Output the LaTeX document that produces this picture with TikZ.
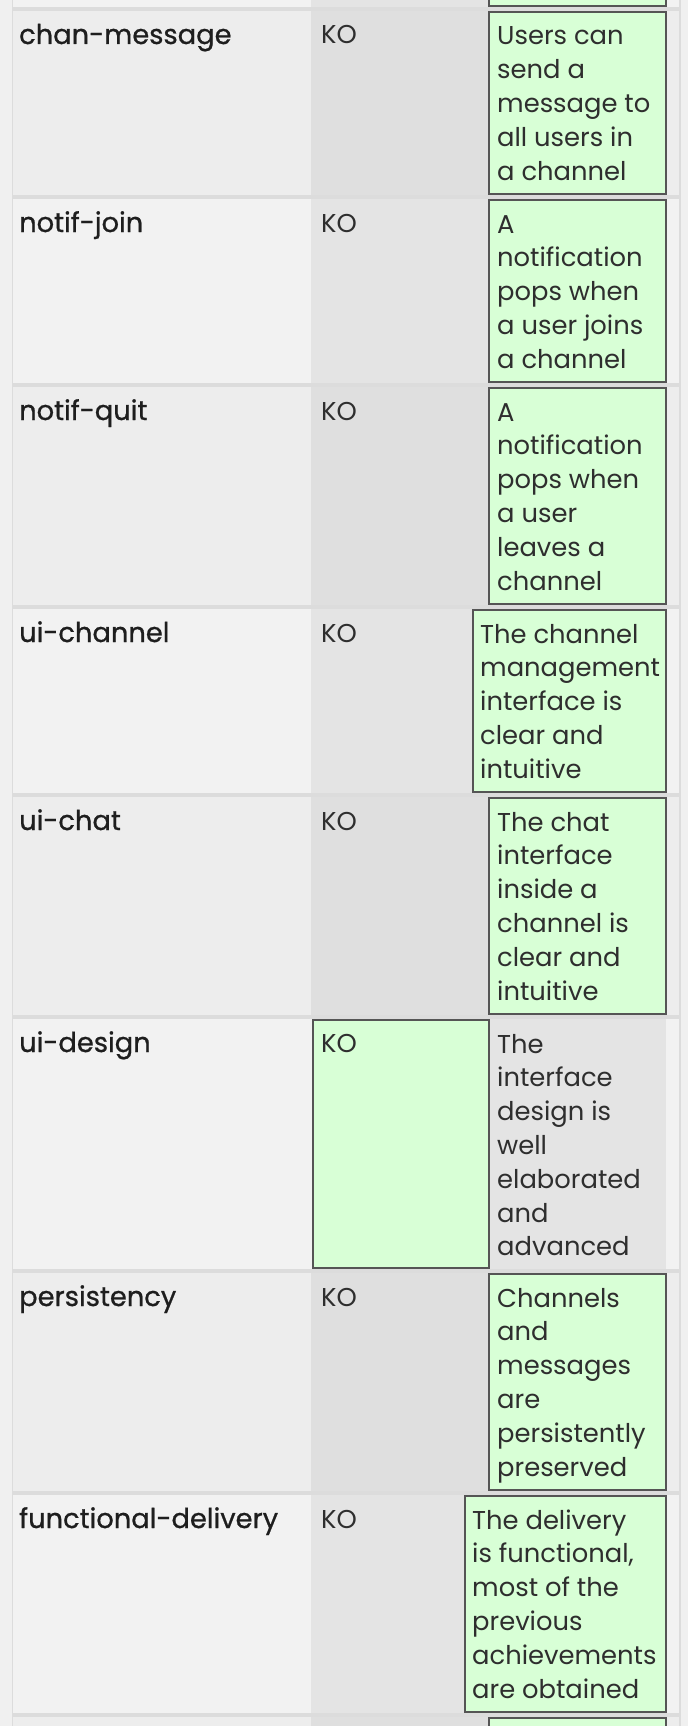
\documentclass[tikz,border=0pt]{standalone}
\usepackage{fontspec}
\setmainfont{Poppins}
\newfontfamily\namefamily{Poppins}[FakeBold=0.8]
\usepackage{tikz}

\definecolor{pagebg}{HTML}{F0F0F0}
\definecolor{gridline}{HTML}{DCDCDC}
\definecolor{namedark}{HTML}{EDEDED}
\definecolor{namelight}{HTML}{F2F2F2}
\definecolor{statdark}{HTML}{DFDFDF}
\definecolor{statlight}{HTML}{E4E4E4}
\definecolor{okfill}{HTML}{D8FFD6}
\definecolor{okline}{HTML}{555555}
\definecolor{inkname}{HTML}{1E1E1E}
\definecolor{inkbody}{HTML}{2E2E2E}

\newcommand{\namefont}{\namefamily\fontsize{27.3}{34}\selectfont}
\newcommand{\bodyfont}{\fontsize{25.8}{33.8}\selectfont}
% lines of a cell, hung from the first baseline
\newcommand{\celllines}[1]{\begin{tabular}[t]{@{}l@{}}#1\end{tabular}}

\begin{document}
\begin{tikzpicture}[x=1pt, y=-1pt,
	okbox/.style={fill=okfill, draw=okline, line width=2pt},
	namelabel/.style={anchor=base west, inner sep=0pt, font=\namefont, text=inkname},
	statlabel/.style={anchor=base west, inner sep=0pt, font=\bodyfont, text=inkbody},
	desclabel/.style={anchor=base west, inner sep=0pt, font=\bodyfont, text=inkbody}]
	\useasboundingbox (0,0) rectangle (688,1726);
	\clip (0,0) rectangle (688,1726);
	\fill[pagebg] (0,0) rectangle (688,1726);
	\fill[gridline] (12,0) rectangle (681,1726);
	
	% row backgrounds
	\fill[namelight] (13,0) rectangle (679,7);
	\fill[statlight] (311,0) rectangle (489,7);
	\fill[namedark] (13,11) rectangle (679,195);
	\fill[statdark] (311,11) rectangle (489,195);
	\fill[namelight] (13,199) rectangle (679,383);
	\fill[statlight] (311,199) rectangle (489,383);
	\fill[namedark] (13,387) rectangle (679,605);
	\fill[statdark] (311,387) rectangle (489,605);
	\fill[namelight] (13,609) rectangle (679,793);
	\fill[statlight] (311,609) rectangle (473,793);
	\fill[namedark] (13,797) rectangle (679,1015);
	\fill[statdark] (311,797) rectangle (489,1015);
	\fill[namelight] (13,1019) rectangle (679,1269);
	\fill[statlight] (490,1019) rectangle (666,1269);
	\fill[namedark] (13,1273) rectangle (679,1491);
	\fill[statdark] (311,1273) rectangle (489,1491);
	\fill[namelight] (13,1495) rectangle (679,1713);
	\fill[statlight] (311,1495) rectangle (465,1713);
	\fill[namedark] (13,1717) rectangle (679,1726);
	\fill[statdark] (311,1717) rectangle (489,1726);
	
	% green cells
	\filldraw[okbox] (489,-10) rectangle (666,6);
	\filldraw[okbox] (489,12) rectangle (666,194);
	\filldraw[okbox] (489,200) rectangle (666,382);
	\filldraw[okbox] (489,388) rectangle (666,604);
	\filldraw[okbox] (473,610) rectangle (666,792);
	\filldraw[okbox] (489,798) rectangle (666,1014);
	\filldraw[okbox] (313,1020) rectangle (489,1268);
	\filldraw[okbox] (489,1274) rectangle (666,1490);
	\filldraw[okbox] (465,1496) rectangle (666,1712);
	\filldraw[okbox] (489,1718) rectangle (666,1740);
	
	% chan-message
	\node[namelabel] (name1) at (19,44) {chan-message};
	\node[statlabel] (stat1) at (321,44) {KO};
	\node[desclabel] (desc1) at (497,45) {\celllines{Users can\\send a\\message to\\all users in\\a channel}};
	
	% notif-join
	\node[namelabel] (name2) at (19,232) {notif-join};
	\node[statlabel] (stat2) at (321,232) {KO};
	\node[desclabel] (desc2) at (497,233) {\celllines{A\\notification\\pops when\\a user joins\\a channel}};
	
	% notif-quit
	\node[namelabel] (name3) at (19,420) {notif-quit};
	\node[statlabel] (stat3) at (321,420) {KO};
	\node[desclabel] (desc3) at (497,421) {\celllines{A\\notification\\pops when\\a user\\leaves a\\channel}};
	
	% ui-channel
	\node[namelabel] (name4) at (19,642) {ui-channel};
	\node[statlabel] (stat4) at (321,642) {KO};
	\node[desclabel] (desc4) at (480,643) {\celllines{The channel\\management\\interface is\\clear and\\intuitive}};
	
	% ui-chat
	\node[namelabel] (name5) at (19,830) {ui-chat};
	\node[statlabel] (stat5) at (321,830) {KO};
	\node[desclabel] (desc5) at (497,831) {\celllines{The chat\\interface\\inside a\\channel is\\clear and\\intuitive}};
	
	% ui-design
	\node[namelabel] (name6) at (19,1052) {ui-design};
	\node[statlabel] (stat6) at (321,1052) {KO};
	\node[desclabel] (desc6) at (497,1053) {\celllines{The\\interface\\design is\\well\\elaborated\\and\\advanced}};
	
	% persistency
	\node[namelabel] (name7) at (19,1306) {persistency};
	\node[statlabel] (stat7) at (321,1306) {KO};
	\node[desclabel] (desc7) at (497,1307) {\celllines{Channels\\and\\messages\\are\\persistently\\preserved}};
	
	% functional-delivery
	\node[namelabel] (name8) at (19,1528) {functional-delivery};
	\node[statlabel] (stat8) at (321,1528) {KO};
	\node[desclabel] (desc8) at (472,1529) {\celllines{The delivery\\is functional,\\most of the\\previous\\achievements\\are obtained}};
\end{tikzpicture}
\end{document}
